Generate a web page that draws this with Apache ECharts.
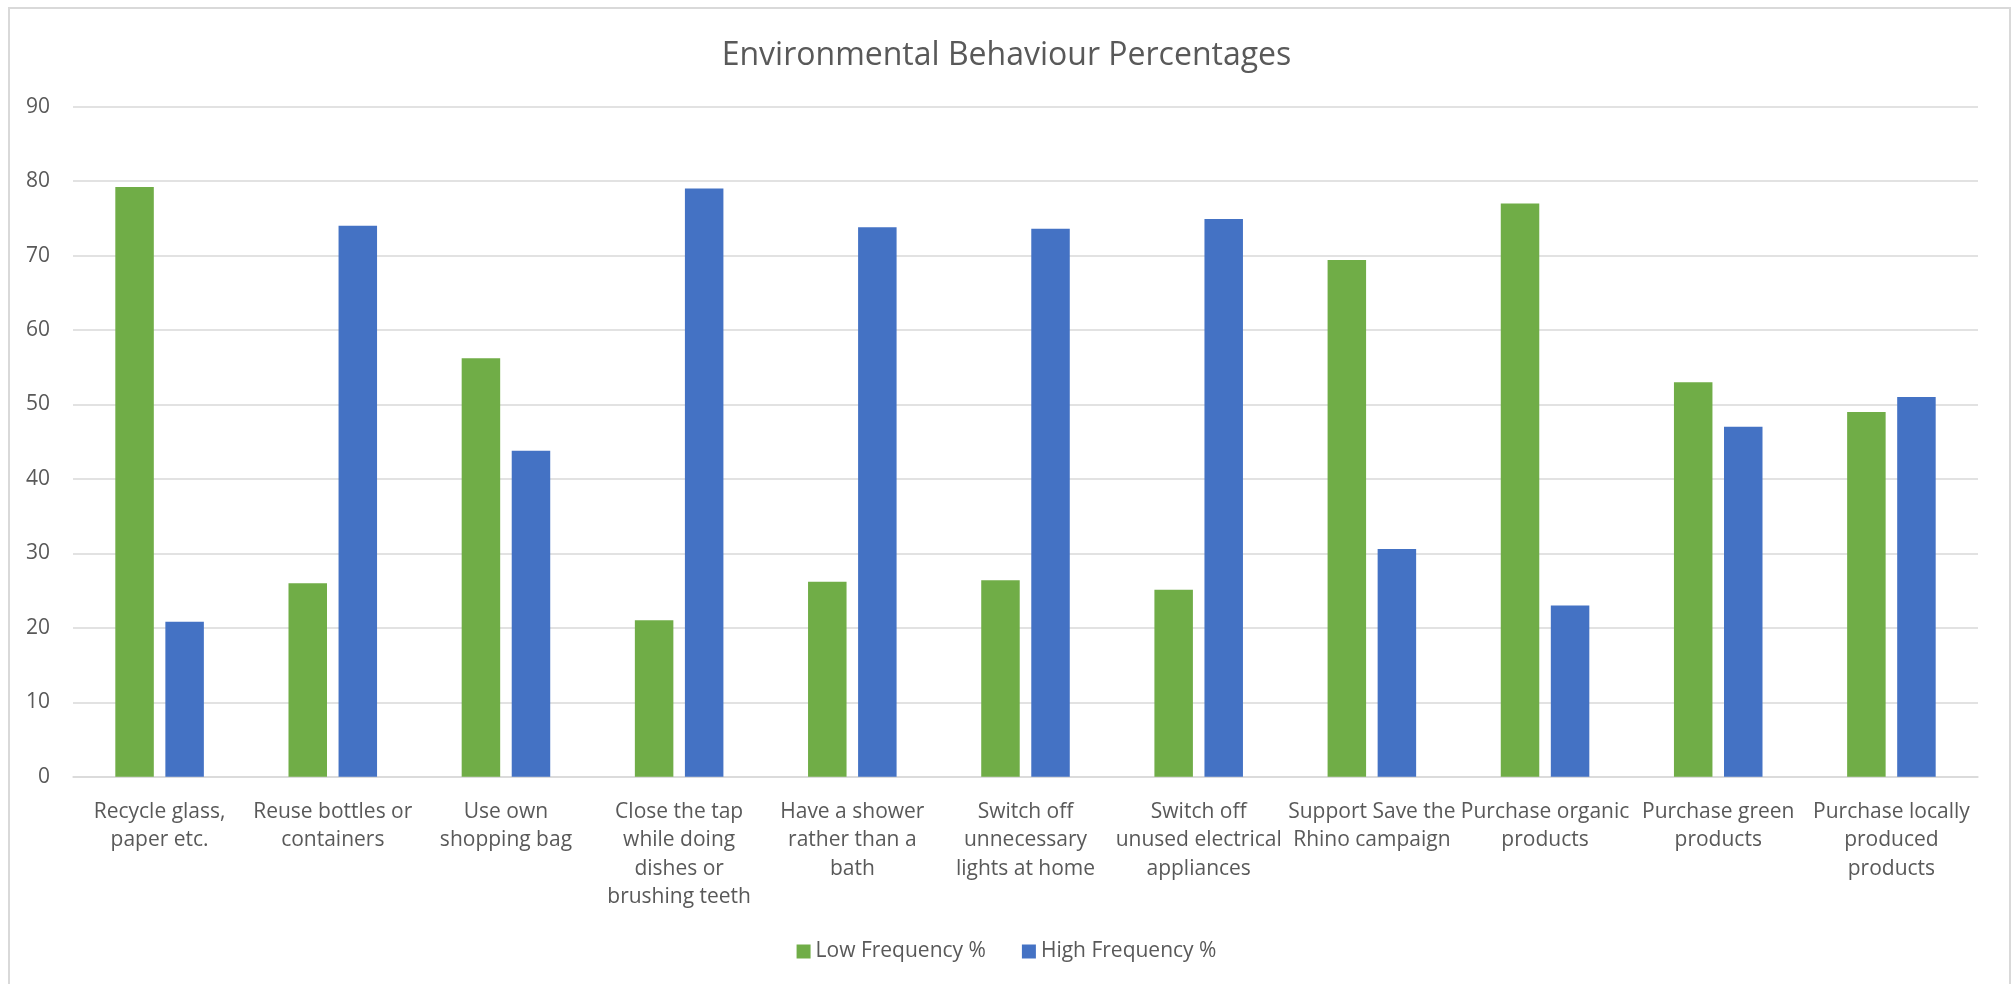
<!DOCTYPE html>
<html>
<head>
<meta charset="utf-8">
<script src="https://cdn.jsdelivr.net/npm/echarts@6/dist/echarts.min.js"></script>
<style>
  html, body { margin: 0; padding: 0; background: #fff; }
  #chart { width: 2013px; height: 984px; }
</style>
</head>
<body>
<div id="chart"></div>
<script>
var categories = [
  'Recycle glass,\npaper etc.',
  'Reuse bottles or\ncontainers',
  'Use own\nshopping bag',
  'Close the tap\nwhile doing\ndishes or\nbrushing teeth',
  'Have a shower\nrather than a\nbath',
  'Switch off\nunnecessary\nlights at home',
  'Switch off\nunused electrical\nappliances',
  'Support Save the\nRhino campaign',
  'Purchase organic\nproducts',
  'Purchase green\nproducts',
  'Purchase locally\nproduced\nproducts'
];
var lowFrequency = [79.2, 26.0, 56.2, 21.0, 26.2, 26.4, 25.1, 69.4, 77.0, 53.0, 49.0];
var highFrequency = [20.8, 74.0, 43.8, 79.0, 73.8, 73.6, 74.9, 30.6, 23.0, 47.0, 51.0];
var yTicks = { min: 0, max: 90, interval: 10 };

var fontFam = 'Open Sans';
var myChart = echarts.init(document.getElementById('chart'));
var option = {
  backgroundColor: '#fff',
  animation: false,
  graphic: [{
    type: 'rect',
    shape: { x: 9, y: 8, width: 2001, height: 1000 },
    style: { fill: 'none', stroke: '#d9d9d9', lineWidth: 2 },
    silent: true
  }],
  title: {
    text: 'Environmental Behaviour Percentages',
    left: 'center',
    top: 35,
    textStyle: { color: '#595959', fontFamily: fontFam, fontWeight: 'normal', fontSize: 32 }
  },
  legend: {
    data: ['Low Frequency %', 'High Frequency %'],
    bottom: 17,
    left: 'center',
    itemWidth: 14,
    itemHeight: 14,
    itemGap: 36,
    icon: 'rect',
    textStyle: { color: '#595959', fontFamily: fontFam, fontSize: 21 }
  },
  grid: { left: 73, right: 35, top: 106.7, bottom: 207.3, containLabel: false },
  xAxis: {
    type: 'category',
    data: categories,
    axisLine: { lineStyle: { color: '#d9d9d9', width: 1.5 } },
    axisTick: { show: false },
    axisLabel: {
      color: '#595959', fontFamily: fontFam, fontSize: 21, lineHeight: 28.5,
      margin: 21, interval: 0
    }
  },
  yAxis: {
    type: 'value',
    min: yTicks.min,
    max: yTicks.max,
    interval: yTicks.interval,
    axisLine: { show: false },
    axisTick: { show: false },
    splitLine: { lineStyle: { color: '#d9d9d9', width: 1.5 } },
    axisLabel: { color: '#595959', fontFamily: fontFam, fontSize: 21, margin: 23 }
  },
  series: [
    {
      name: 'Low Frequency %',
      type: 'bar',
      data: lowFrequency,
      barWidth: 38.5,
      barGap: '30%',
      itemStyle: { color: '#70ad47' }
    },
    {
      name: 'High Frequency %',
      type: 'bar',
      data: highFrequency,
      barWidth: 38.5,
      barGap: '30%',
      itemStyle: { color: '#4472c4' }
    }
  ]
};
myChart.setOption(option);
</script>
</body>
</html>
